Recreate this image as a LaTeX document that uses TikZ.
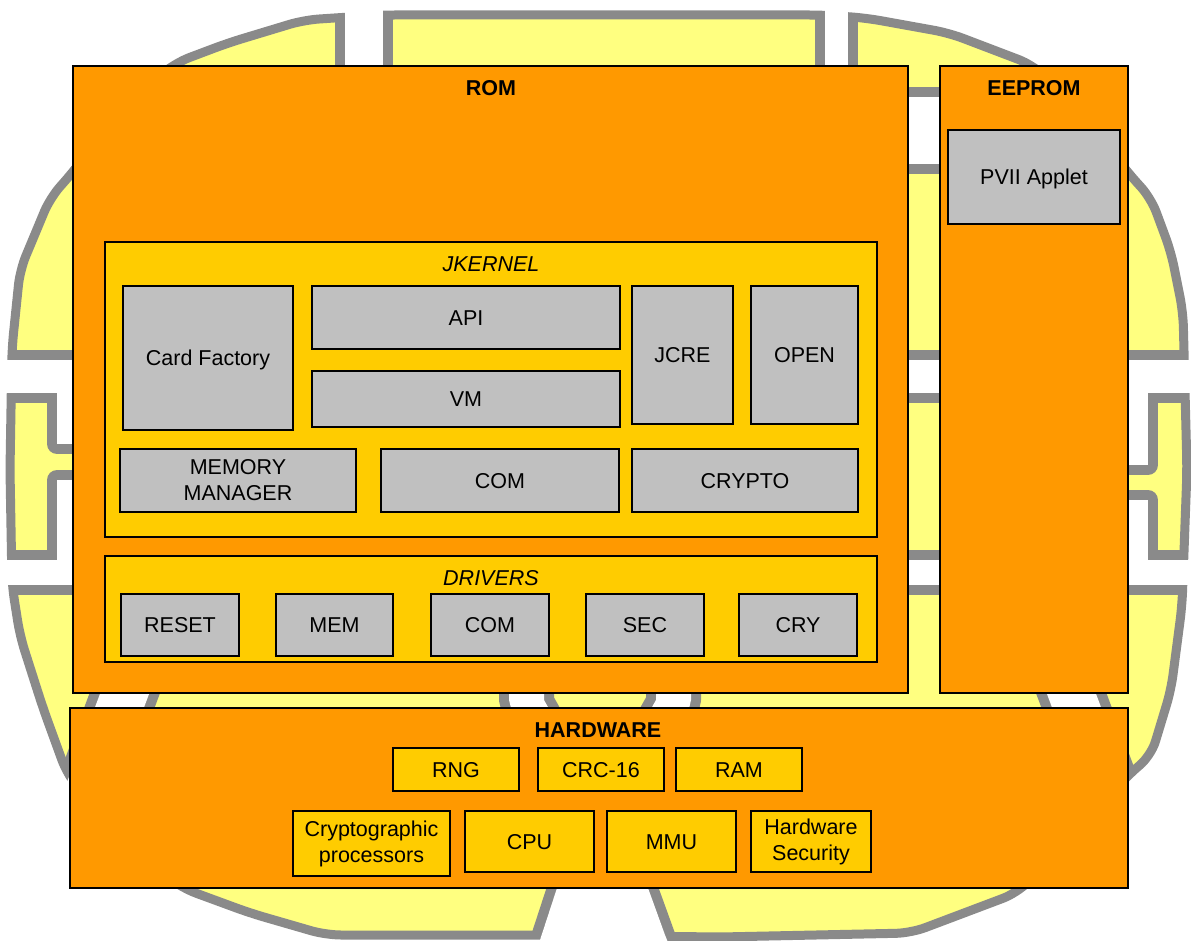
\documentclass[tikz,border=0pt]{standalone}
\usepackage{fontspec}
\setmainfont{Liberation Sans}
\definecolor{padyellow}{RGB}{255,255,128}
\definecolor{padgrey}{RGB}{138,138,138}
\definecolor{romorange}{RGB}{255,153,0}
\definecolor{kgold}{RGB}{255,204,0}
\definecolor{boxgrey}{RGB}{192,192,192}
\newcommand\blobcoords{(73,172) -- (50,198) -- (20,270) -- (12,348) -- (10,470) -- (12,585) -- (20,636) -- (43,708) -- (67,774) -- (120,840) -- (182,888) -- (250,913) -- (326,935) -- (531,935) -- (721,937) -- (911,933) -- (1017,893) -- (1080,830) -- (1129,774) -- (1151,756) -- (1171,690) -- (1182,606) -- (1187,470) -- (1183,312) -- (1171,252) -- (1151,198) -- (1129,174) -- (1080,110) -- (1033,65) -- (949,33) -- (866,18) -- (824,15) -- (380,15) -- (304,20) -- (228,43) -- (175,63) -- (120,110) -- cycle}
\newcommand\bx[7]{\node[#2, minimum width={#5-#3}, minimum height={#6-#4}] (#1) at ({(#3+#5)/2},{(#4+#6)/2}) {#7};}
\begin{document}
\begin{tikzpicture}[x=1pt,y=-1pt,
  every node/.style={font=\fontsize{21.5}{26}\selectfont, inner sep=0pt, outer sep=0pt},
  cont/.style={draw=black, line width=1.4pt, fill=romorange},
  layer/.style={draw=black, line width=1.4pt, fill=kgold},
  swbox/.style={draw=black, line width=1.7pt, fill=boxgrey, align=center},
  hwbox/.style={draw=black, line width=1.7pt, fill=kgold, align=center},
  one/.style={text height=15.4pt, text depth=0pt},
  ttl/.style={font=\fontsize{21.5}{26}\selectfont\bfseries, text height=15.4pt, text depth=0pt},
  ittl/.style={font=\fontsize{21.5}{26}\selectfont\itshape, text height=15.4pt, text depth=0pt},
  padline/.style={draw=padgrey, line width=20pt, line join=round}
]
\useasboundingbox (0,0) rectangle (1191,941);
% ---- background: chip contact pads ----
\fill[padyellow, rounded corners=15pt] \blobcoords;
\begin{scope}
  \clip[rounded corners=15pt] \blobcoords;
  \draw[padgrey, line width=58pt] (364,-30) -- (364,110);
  \draw[padgrey, line width=43pt] (836,-30) -- (836,150);
  \draw[padgrey, line width=87pt] (820,131) -- (1260,131);
  \draw[padgrey, line width=53pt] (-30,376) -- (1260,376);
  \draw[padgrey, line width=45pt] (-30,572) -- (1260,572);
  \draw[padgrey, line width=66pt] (170,572) -- (70,840);
  \draw[padgrey, line width=66pt] (1026,572) -- (1126,840);
  \draw[padline] (57,370) -- (57,444) -- (100,444) -- (100,370) -- cycle;
  \draw[padline] (57,480) -- (57,578) -- (100,578) -- (100,480) -- cycle;
  \draw[padline] (1148,370) -- (1148,465) -- (1100,465) -- (1100,370) -- cycle;
  \draw[padline] (1148,500) -- (1148,578) -- (1100,578) -- (1100,500) -- cycle;
  \draw[padline] (509,600) -- (544,600) -- (544,700) -- (600,800) -- (656,700) -- (656,600) -- (691,600) -- (691,700) -- (648,888) -- (665,935) -- (675,960) -- (535,960) -- (540,940) -- (557,888) -- (509,700) -- cycle;
\end{scope}
\draw[padgrey, line width=9pt, rounded corners=15pt] \blobcoords;
\draw[white, line width=38pt] (364,-30) -- (364,110);
\draw[white, line width=23pt] (836,-30) -- (836,150);
\draw[white, line width=67pt] (820,131) -- (1260,131);
\draw[white, line width=33pt] (-30,376) -- (1260,376);
\draw[white, line width=25pt] (-30,572) -- (1260,572);
\draw[white, line width=46pt] (170,572) -- (70,840);
\draw[white, line width=46pt] (1026,572) -- (1126,840);
\fill[white] (57,370) -- (57,444) -- (100,444) -- (100,370) -- cycle;
\fill[white] (57,480) -- (57,578) -- (100,578) -- (100,480) -- cycle;
\fill[white] (1148,370) -- (1148,465) -- (1100,465) -- (1100,370) -- cycle;
\fill[white] (1148,500) -- (1148,578) -- (1100,578) -- (1100,500) -- cycle;
\fill[white] (509,600) -- (544,600) -- (544,700) -- (600,800) -- (656,700) -- (656,600) -- (691,600) -- (691,700) -- (648,888) -- (665,935) -- (675,960) -- (535,960) -- (540,940) -- (557,888) -- (509,700) -- cycle;
% ---- memory areas ----
\bx{rom}{cont}{73}{66}{908}{693}{}
\bx{eeprom}{cont}{940}{66}{1128}{693}{}
\bx{hw}{cont}{70}{708}{1128}{888}{}
\node[ttl] (romt) at (491,88) {ROM};
\node[ttl] (eet) at (1034,88) {EEPROM};
\node[ttl] (hwt) at (598,730) {HARDWARE};
\bx{pvii}{swbox,one}{948}{130}{1120}{224}{PVII Applet}
% ---- JKERNEL ----
\bx{jk}{layer}{105}{242}{877}{537}{}
\node[ittl] (jkt) at (491,264) {JKERNEL};
\bx{cf}{swbox,one}{123}{286}{293}{430}{Card Factory}
\bx{api}{swbox,one}{312}{286}{620}{349}{API}
\bx{vm}{swbox,one}{312}{371}{620}{427}{VM}
\bx{jcre}{swbox,one}{632}{286}{733}{424}{JCRE}
\bx{open}{swbox,one}{751}{286}{858}{424}{OPEN}
\bx{mm}{swbox}{120}{449}{356}{512}{MEMORY\\MANAGER}
\bx{com}{swbox,one}{381}{449}{619}{512}{COM}
\bx{crypto}{swbox,one}{632}{449}{858}{512}{CRYPTO}
% ---- DRIVERS ----
\bx{drv}{layer}{105}{556}{877}{662}{}
\node[ittl] (drvt) at (491,578) {DRIVERS};
\bx{reset}{swbox,one}{121}{594}{239}{656}{RESET}
\bx{mem}{swbox,one}{276}{594}{393}{656}{MEM}
\bx{dcom}{swbox,one}{431}{594}{549}{656}{COM}
\bx{sec}{swbox,one}{586}{594}{704}{656}{SEC}
\bx{cry}{swbox,one}{739}{594}{857}{656}{CRY}
% ---- HARDWARE ----
\bx{rng}{hwbox,one}{393}{748}{519}{791}{RNG}
\bx{crc}{hwbox,one}{538}{748}{664}{791}{CRC-16}
\bx{ram}{hwbox,one}{676}{748}{802}{791}{RAM}
\bx{cp}{hwbox}{293}{811}{450}{876}{Cryptographic\\processors}
\bx{cpu}{hwbox,one}{465}{811}{594}{872}{CPU}
\bx{mmu}{hwbox,one}{607}{811}{736}{872}{MMU}
\bx{hs}{hwbox}{751}{811}{871}{872}{Hardware\\Security}
\end{tikzpicture}
\end{document}
